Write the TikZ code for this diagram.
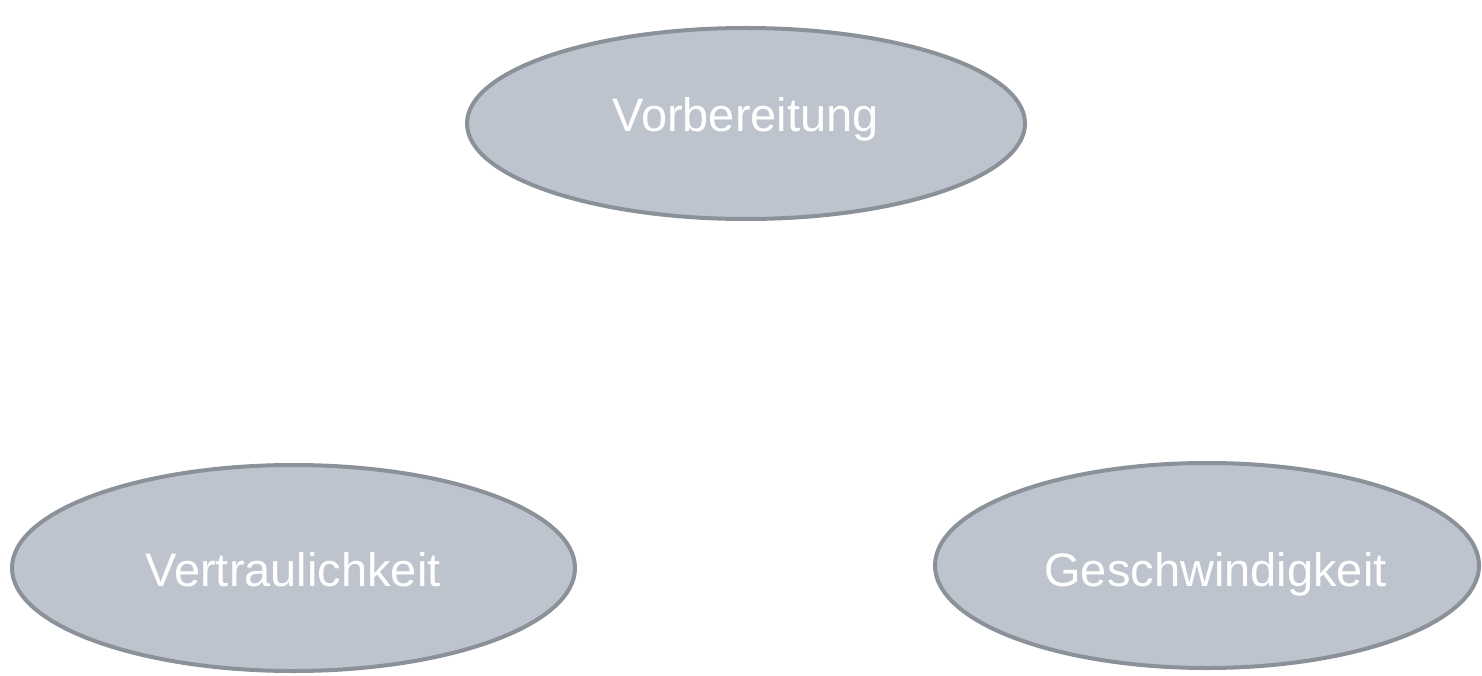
\documentclass[tikz,border=0pt]{standalone}
\usepackage{fontspec}
\setmainfont{Liberation Sans}
\usetikzlibrary{shapes.geometric}
\definecolor{ovalfill}{HTML}{BDC4CD}
\definecolor{ovaledge}{HTML}{8A9198}
\tikzset{
  oval/.style={ellipse, draw=ovaledge, fill=ovalfill, line width=4pt, inner sep=0pt},
  ovaltext/.style={anchor=base, inner sep=0pt, text=white, font=\fontsize{47}{50}\selectfont}
}
\begin{document}
\begin{tikzpicture}[x=1pt, y=-1pt]
  \useasboundingbox[fill=white] (0,0) rectangle (1482,676);
  % the three ovals
  \node[oval, minimum width=558pt, minimum height=191pt] (prep) at (746,123.5) {};
  \node[oval, minimum width=563pt, minimum height=206pt] (conf) at (293.5,568) {};
  \node[oval, minimum width=544pt, minimum height=205pt] (speed) at (1207,565.5) {};
  % their captions, placed on the baseline
  \node[ovaltext] (prep-label) at (745.5,132) {Vorbereitung};
  \node[ovaltext] (conf-label) at (293,586) {Vertraulichkeit};
  \node[ovaltext] (speed-label) at (1215.5,586) {Geschwindigkeit};
\end{tikzpicture}
\end{document}
